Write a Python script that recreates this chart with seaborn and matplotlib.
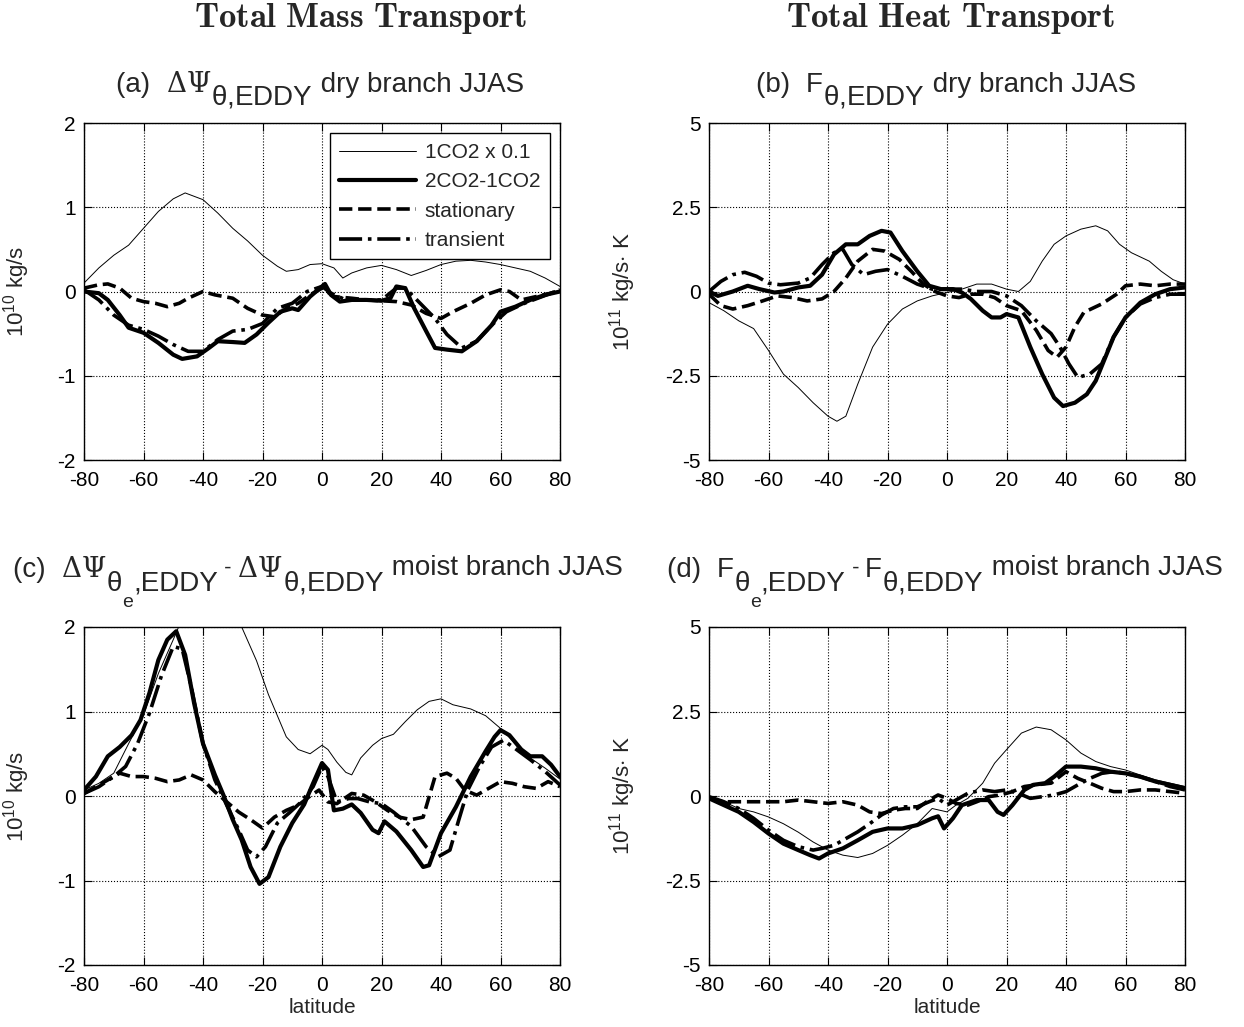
import numpy as np
import matplotlib
matplotlib.use("Agg")
import matplotlib.pyplot as plt
from matplotlib.transforms import IdentityTransform
import seaborn as sns

# ── Panel (a): dry branch mass transport (10^10 kg/s) ──────────────────────────
A_THIN = [(-80, 0.10), (-75, 0.28), (-70, 0.43), (-65, 0.55), (-60, 0.75), (-55, 0.95),
          (-50, 1.10), (-46, 1.17), (-40, 1.09), (-35, 0.93), (-30, 0.75), (-25, 0.60),
          (-20, 0.43), (-15, 0.30), (-12, 0.24), (-8, 0.26), (-4, 0.32), (0, 0.33),
          (4, 0.28), (7, 0.16), (10, 0.22), (15, 0.28), (20, 0.31), (25, 0.26), (30, 0.19),
          (35, 0.25), (40, 0.32), (45, 0.36), (50, 0.37), (55, 0.35), (60, 0.32),
          (65, 0.28), (70, 0.24), (75, 0.16), (80, 0.06)]
A_THICK = [(-80, 0.00), (-75, -0.02), (-72, -0.10), (-68, -0.28), (-65, -0.43), (-60, -0.49),
           (-55, -0.61), (-50, -0.75), (-47, -0.80), (-42, -0.77), (-38, -0.67), (-35, -0.59),
           (-30, -0.60), (-26, -0.61), (-22, -0.51), (-18, -0.37), (-14, -0.24), (-10, -0.20),
           (-8, -0.22), (-4, -0.06), (0, 0.06), (1, 0.09), (3, -0.04), (6, -0.12), (10, -0.10),
           (15, -0.10), (20, -0.11), (23, -0.08), (25, 0.06), (28, 0.04), (31, -0.20),
           (35, -0.47), (38, -0.67), (42, -0.69), (47, -0.71), (52, -0.59), (57, -0.40),
           (60, -0.24), (65, -0.18), (70, -0.10), (75, -0.04), (80, 0.00)]
A_STAT = [(-80, 0.04), (-75, 0.08), (-72, 0.09), (-68, 0.04), (-64, -0.08), (-60, -0.12),
          (-56, -0.14), (-52, -0.18), (-48, -0.14), (-45, -0.08), (-40, 0.00), (-36, -0.04),
          (-30, -0.08), (-25, -0.20), (-20, -0.28), (-16, -0.30), (-12, -0.20), (-8, -0.14),
          (-4, -0.04), (0, 0.04), (4, -0.06), (10, -0.08), (15, -0.10), (20, -0.11),
          (25, -0.12), (30, -0.16), (35, -0.26), (40, -0.32), (44, -0.24), (50, -0.14),
          (55, -0.04), (60, 0.02), (63, 0.00), (67, -0.10), (72, -0.06), (77, -0.02), (80, 0.02)]
A_TRANS = [(-80, 0.02), (-75, -0.10), (-70, -0.28), (-65, -0.40), (-60, -0.45), (-55, -0.53),
           (-50, -0.63), (-45, -0.71), (-40, -0.71), (-35, -0.57), (-30, -0.47), (-25, -0.45),
           (-20, -0.38), (-15, -0.20), (-10, -0.14), (-5, 0.00), (0, 0.06), (3, -0.02),
           (8, -0.10), (15, -0.10), (20, -0.10), (25, 0.04), (28, 0.04), (33, -0.14),
           (38, -0.32), (42, -0.51), (47, -0.67), (52, -0.59), (57, -0.40), (62, -0.24),
           (68, -0.14), (74, -0.06), (80, 0.02)]

# ── Panel (b): dry branch heat transport (10^11 kg/s K) ────────────────────────
B_THIN = [(-80, -0.33), (-75, -0.57), (-70, -0.87), (-65, -1.10), (-60, -1.75), (-55, -2.45),
          (-50, -2.85), (-45, -3.30), (-40, -3.70), (-37, -3.85), (-34, -3.70), (-30, -2.75),
          (-25, -1.65), (-20, -0.97), (-15, -0.52), (-10, -0.28), (-5, -0.13), (0, -0.03),
          (5, 0.07), (10, 0.22), (15, 0.22), (20, 0.07), (24, 0.00), (28, 0.30), (32, 0.90),
          (36, 1.40), (40, 1.65), (45, 1.85), (50, 1.95), (54, 1.80), (58, 1.40), (62, 1.15),
          (68, 0.90), (72, 0.60), (76, 0.35), (80, 0.22)]
B_THICK = [(-80, 0.00), (-77, -0.13), (-72, 0.00), (-67, 0.17), (-63, 0.07), (-58, -0.03),
           (-55, 0.00), (-50, 0.12), (-46, 0.17), (-42, 0.50), (-38, 1.10), (-34, 1.40),
           (-30, 1.40), (-26, 1.65), (-22, 1.80), (-19, 1.75), (-15, 1.20), (-10, 0.60),
           (-6, 0.17), (-2, 0.07), (2, 0.07), (5, -0.03), (8, -0.22), (12, -0.57), (15, -0.77),
           (18, -0.77), (20, -0.67), (24, -0.77), (28, -1.65), (32, -2.45), (36, -3.15),
           (39, -3.40), (43, -3.30), (47, -3.05), (50, -2.65), (53, -2.00), (56, -1.35),
           (60, -0.77), (65, -0.33), (70, -0.08), (75, 0.07), (80, 0.12)]
B_STAT = [(-80, -0.08), (-76, -0.42), (-72, -0.52), (-67, -0.42), (-62, -0.28), (-57, -0.13),
          (-52, -0.18), (-47, -0.28), (-42, -0.22), (-38, 0.00), (-34, 0.40), (-30, 0.90),
          (-25, 1.25), (-21, 1.20), (-16, 0.95), (-12, 0.60), (-8, 0.22), (-4, 0.00),
          (0, -0.13), (4, -0.18), (8, -0.08), (12, -0.08), (16, -0.18), (20, -0.42),
          (25, -0.57), (30, -1.15), (34, -1.75), (37, -1.95), (40, -1.65), (43, -1.05),
          (46, -0.62), (52, -0.37), (57, -0.08), (60, 0.17), (65, 0.22), (70, 0.17),
          (75, 0.22), (80, 0.22)]
B_TRANS = [(-80, 0.00), (-76, 0.30), (-72, 0.50), (-68, 0.57), (-64, 0.45), (-60, 0.25),
           (-56, 0.20), (-50, 0.25), (-46, 0.40), (-42, 0.80), (-38, 1.15), (-35, 1.25),
           (-32, 0.80), (-28, 0.50), (-24, 0.60), (-20, 0.65), (-15, 0.45), (-10, 0.22),
           (-5, 0.07), (0, 0.07), (5, 0.07), (10, 0.00), (15, 0.00), (20, -0.13), (25, -0.42),
           (30, -0.87), (35, -1.25), (38, -1.65), (41, -2.15), (44, -2.55), (48, -2.45),
           (52, -2.15), (56, -1.35), (60, -0.77), (65, -0.37), (70, -0.18), (75, -0.08),
           (80, -0.08)]

# ── Panel (c): moist minus dry, mass transport (10^10 kg/s) ────────────────────
C_THIN = [(-80, 0.07), (-75, 0.15), (-70, 0.27), (-65, 0.62), (-60, 0.96), (-55, 1.45),
          (-50, 1.85), (-47, 2.10), (-42, 2.60), (-36, 2.90), (-31, 2.50), (-27, 2.00),
          (-22, 1.60), (-18, 1.20), (-15, 0.95), (-12, 0.70), (-8, 0.55), (-4, 0.50),
          (0, 0.60), (2, 0.55), (5, 0.40), (8, 0.28), (10, 0.25), (13, 0.45), (17, 0.60),
          (20, 0.68), (24, 0.73), (28, 0.88), (32, 1.02), (36, 1.12), (40, 1.15), (44, 1.08),
          (50, 1.03), (55, 0.95), (60, 0.80), (65, 0.62), (70, 0.45), (75, 0.33), (80, 0.20)]
C_THICK = [(-80, 0.07), (-76, 0.23), (-72, 0.47), (-68, 0.58), (-64, 0.72), (-61, 0.90),
           (-58, 1.22), (-55, 1.61), (-52, 1.85), (-49, 1.95), (-46, 1.67), (-43, 1.10),
           (-40, 0.62), (-36, 0.25), (-33, 0.00), (-30, -0.28), (-27, -0.52), (-24, -0.84),
           (-21, -1.04), (-18, -0.96), (-14, -0.60), (-10, -0.32), (-6, -0.10), (-3, 0.15),
           (0, 0.39), (2, 0.31), (4, -0.17), (7, -0.15), (10, -0.10), (13, -0.20), (17, -0.40),
           (19, -0.44), (21, -0.30), (25, -0.42), (30, -0.64), (34, -0.84), (36, -0.82),
           (40, -0.44), (45, -0.13), (50, 0.23), (55, 0.53), (58, 0.70), (60, 0.78), (63, 0.72),
           (67, 0.55), (70, 0.47), (74, 0.47), (77, 0.37), (80, 0.23)]
C_STAT = [(-80, 0.03), (-76, 0.11), (-72, 0.19), (-68, 0.27), (-64, 0.23), (-60, 0.23),
          (-56, 0.21), (-52, 0.17), (-48, 0.19), (-44, 0.25), (-40, 0.19), (-36, 0.05),
          (-32, -0.07), (-28, -0.19), (-24, -0.28), (-20, -0.38), (-16, -0.25), (-12, -0.17),
          (-8, -0.11), (-4, 0.00), (-1, 0.07), (2, -0.07), (5, -0.09), (10, 0.03), (14, 0.01),
          (18, -0.07), (22, -0.17), (26, -0.25), (30, -0.28), (34, -0.25), (38, 0.23),
          (42, 0.27), (45, 0.21), (48, 0.07), (52, 0.01), (56, 0.09), (60, 0.17), (64, 0.15),
          (68, 0.11), (72, 0.09), (76, 0.17), (80, 0.11)]
C_TRANS = [(-80, 0.03), (-75, 0.11), (-70, 0.23), (-66, 0.35), (-62, 0.62), (-58, 0.98),
           (-54, 1.42), (-50, 1.77), (-47, 1.74), (-44, 1.30), (-40, 0.62), (-36, 0.19),
           (-32, -0.11), (-28, -0.40), (-25, -0.64), (-22, -0.72), (-19, -0.60), (-15, -0.32),
           (-11, -0.20), (-7, -0.07), (-3, 0.11), (0, 0.35), (2, 0.23), (5, -0.07), (9, -0.03),
           (12, -0.03), (16, -0.07), (20, -0.09), (24, -0.19), (30, -0.36), (35, -0.60),
           (39, -0.72), (43, -0.64), (46, -0.28), (49, 0.07), (53, 0.35), (57, 0.58),
           (61, 0.66), (65, 0.56), (70, 0.43), (75, 0.29), (80, 0.13)]

# ── Panel (d): moist minus dry, heat transport (10^11 kg/s K) ──────────────────
D_THIN = [(-80, -0.02), (-75, -0.17), (-70, -0.37), (-65, -0.47), (-60, -0.62), (-55, -0.82),
          (-50, -1.07), (-45, -1.36), (-40, -1.60), (-35, -1.75), (-30, -1.82), (-25, -1.70),
          (-20, -1.46), (-15, -1.16), (-10, -0.82), (-5, -0.37), (0, -0.47), (3, -0.27),
          (7, -0.07), (12, 0.38), (16, 0.97), (20, 1.37), (25, 1.86), (30, 2.04), (35, 1.96),
          (40, 1.66), (45, 1.27), (50, 1.02), (55, 0.87), (60, 0.77), (65, 0.62), (70, 0.48),
          (75, 0.38), (80, 0.28)]
D_THICK = [(-80, -0.07), (-75, -0.27), (-70, -0.47), (-65, -0.77), (-60, -1.11), (-55, -1.41),
           (-50, -1.60), (-46, -1.75), (-43, -1.85), (-40, -1.70), (-35, -1.55), (-30, -1.31),
           (-25, -1.06), (-20, -0.96), (-15, -0.96), (-10, -0.86), (-5, -0.66), (-3, -0.60),
           (-1, -0.96), (2, -0.66), (5, -0.27), (10, -0.12), (14, -0.12), (17, -0.47),
           (19, -0.56), (22, -0.27), (26, 0.18), (29, 0.33), (33, 0.38), (36, 0.57), (40, 0.87),
           (45, 0.87), (50, 0.82), (55, 0.72), (60, 0.67), (65, 0.57), (70, 0.43), (75, 0.33),
           (80, 0.23)]
D_STAT = [(-80, -0.07), (-75, -0.17), (-70, -0.17), (-65, -0.17), (-60, -0.17), (-55, -0.17),
          (-50, -0.12), (-45, -0.17), (-40, -0.22), (-35, -0.17), (-30, -0.27), (-26, -0.47),
          (-22, -0.52), (-18, -0.42), (-14, -0.37), (-10, -0.37), (-6, -0.12), (-3, 0.03),
          (0, -0.07), (3, -0.22), (7, -0.27), (10, -0.17), (14, -0.02), (18, 0.03), (22, 0.13),
          (26, 0.28), (30, 0.33), (35, 0.38), (40, 0.72), (44, 0.52), (48, 0.38), (52, 0.23),
          (56, 0.13), (60, 0.13), (65, 0.18), (70, 0.18), (75, 0.13), (80, 0.08)]
D_TRANS = [(-80, -0.02), (-75, -0.17), (-70, -0.37), (-65, -0.66), (-60, -1.01), (-55, -1.31),
           (-50, -1.50), (-45, -1.60), (-42, -1.55), (-38, -1.46), (-34, -1.26), (-30, -1.06),
           (-26, -0.82), (-22, -0.56), (-18, -0.37), (-14, -0.32), (-10, -0.32), (-6, -0.17),
           (-3, -0.07), (0, -0.27), (3, -0.12), (7, 0.08), (12, 0.18), (16, 0.13), (20, 0.18),
           (24, 0.08), (28, -0.07), (32, -0.02), (36, 0.03), (40, 0.13), (44, 0.33), (48, 0.52),
           (52, 0.67), (56, 0.72), (60, 0.67), (65, 0.57), (70, 0.43), (75, 0.28), (80, 0.18)]

LEGEND_LABELS = ["1CO2 x 0.1", "2CO2-1CO2", "stationary", "transient"]
# (linestyle, linewidth) for thin / thick / stationary / transient
LINE_STYLES = [("-", 0.7), ("-", 3.0), ("--", 2.6), ("-.", 2.6)]

sns.set_theme(style="ticks")
plt.rcParams.update({
    "font.family": ["Liberation Sans", "DejaVu Sans"],
    "mathtext.fontset": "custom",
    "mathtext.rm": "Liberation Sans",
    "mathtext.it": "Liberation Sans",
    "mathtext.bf": "Liberation Sans:bold",
    "axes.unicode_minus": False,
    "axes.edgecolor": "black",
    "axes.linewidth": 1.0,
})

W, H = 1244, 1027
fig = plt.figure(figsize=(W / 100, H / 100), dpi=100)
renderer = fig.canvas.get_renderer()


def box(x0, y0, x1, y1):
    return [x0 / W, 1 - y1 / H, (x1 - x0) / W, (y1 - y0) / H]


def chain_title(parts, cx, base_y, fs):
    # MATLAB-style title: pieces placed side by side, subscripts kept at full size
    placed, x = [], 0.0
    for s, dy, scale, mfam in parts:
        kw = {"math_fontfamily": mfam} if mfam else {}
        t = fig.text(0, 0, s, fontsize=fs * scale, ha="left", va="baseline",
                     transform=IdentityTransform(), **kw)
        placed.append((t, x, dy))
        x += t.get_window_extent(renderer).width
    x0 = cx - x / 2
    for t, off, dy in placed:
        t.set_position((x0 + off, H - base_y + dy))


GR = "dejavuserif"
panels = [
    dict(rect=box(84, 123, 560, 460), series=[A_THIN, A_THICK, A_STAT, A_TRANS],
         ylim=(-2, 2), yticks=[-2, -1, 0, 1, 2], yticklabels=["-2", "-1", "0", "1", "2"],
         ylabel=r"$10^{10}$ kg/s", ylx=-0.11, legend=True, xlabel=None,
         title=[("(a)  ", 0, 1, None), (r"$\Delta\Psi$", 0, 1.0, GR), (r"$\theta$,EDDY", -13, 1, None),
                (" dry branch JJAS", 0, 1, None)], tc=(320, 92)),
    dict(rect=box(709, 123, 1185, 460), series=[B_THIN, B_THICK, B_STAT, B_TRANS],
         ylim=(-5, 5), yticks=[-5, -2.5, 0, 2.5, 5], yticklabels=["-5", "-2.5", "0", "2.5", "5"],
         ylabel=r"$10^{11}$ kg/s$\cdot$ K", ylx=-0.15, legend=False, xlabel=None,
         title=[("(b)  ", 0, 1, None), ("F", 0, 1, None), (r"$\theta$,EDDY", -13, 1, None),
                (" dry branch JJAS", 0, 1, None)], tc=(946, 92)),
    dict(rect=box(84, 627, 560, 965), series=[C_THIN, C_THICK, C_STAT, C_TRANS],
         ylim=(-2, 2), yticks=[-2, -1, 0, 1, 2], yticklabels=["-2", "-1", "0", "1", "2"],
         ylabel=r"$10^{10}$ kg/s", ylx=-0.11, legend=False, xlabel="latitude",
         title=[("(c)  ", 0, 1, None), (r"$\Delta\Psi$", 0, 1.0, GR), (r"$\theta$", -14, 1, None),
                ("e", -30, 0.7, None), (",EDDY", -14, 1, None), (" - ", 3, 0.8, None),
                (r"$\Delta\Psi$", 0, 1.0, GR), (r"$\theta$,EDDY", -14, 1, None),
                (" moist branch JJAS", 2, 1, None)], tc=(318, 577)),
    dict(rect=box(709, 627, 1185, 965), series=[D_THIN, D_THICK, D_STAT, D_TRANS],
         ylim=(-5, 5), yticks=[-5, -2.5, 0, 2.5, 5], yticklabels=["-5", "-2.5", "0", "2.5", "5"],
         ylabel=r"$10^{11}$ kg/s$\cdot$ K", ylx=-0.15, legend=False, xlabel="latitude",
         title=[("(d)  ", 0, 1, None), ("F", 0, 1, None), (r"$\theta$", -14, 1, None),
                ("e", -30, 0.7, None), (",EDDY", -14, 1, None), (" - ", 3, 0.8, None),
                ("F", 0, 1, None), (r"$\theta$,EDDY", -14, 1, None),
                (" moist branch JJAS", 2, 1, None)], tc=(945, 577)),
]

for p in panels:
    ax = fig.add_axes(p["rect"])
    for pts, label, (ls, lw) in zip(p["series"], LEGEND_LABELS, LINE_STYLES):
        arr = np.array(pts)
        sns.lineplot(x=arr[:, 0], y=arr[:, 1], ax=ax, color="black", linestyle=ls, lw=lw,
                     label=label, sort=False, estimator=None)
    ax.set_xlim(-80, 80)
    ax.set_ylim(*p["ylim"])
    ax.set_xticks(np.arange(-80, 81, 20))
    ax.set_yticks(p["yticks"])
    ax.set_yticklabels(p["yticklabels"])
    ax.tick_params(direction="in", top=True, right=True, length=6, width=0.8,
                   labelsize=15, colors="black")
    ax.tick_params(axis="x", pad=8)
    ax.tick_params(axis="y", pad=6)
    ax.grid(True, linestyle=":", color="black", linewidth=0.8)
    ax.set_ylabel(p["ylabel"], fontsize=16)
    ax.yaxis.set_label_coords(p["ylx"], 0.5)
    if p["xlabel"]:
        ax.set_xlabel(p["xlabel"], fontsize=15, labelpad=2)
    if p["legend"]:
        ax.legend(loc="upper right", fontsize=15, frameon=True, fancybox=False, framealpha=1,
                  edgecolor="black", handlelength=3.7, handletextpad=0.4, borderaxespad=0.5,
                  labelspacing=0.5, borderpad=0.45)
    else:
        leg = ax.get_legend()
        if leg is not None:
            leg.remove()
    chain_title(p["title"], p["tc"][0], p["tc"][1], 20)

fig.text(360 / W, 1 - 19 / H, r"$\mathbf{Total\ Mass\ Transport}$", ha="center", va="center",
         fontsize=25, math_fontfamily="cm")
fig.text(951 / W, 1 - 19 / H, r"$\mathbf{Total\ Heat\ Transport}$", ha="center", va="center",
         fontsize=25, math_fontfamily="cm")

fig.savefig("out.png", dpi=100)
